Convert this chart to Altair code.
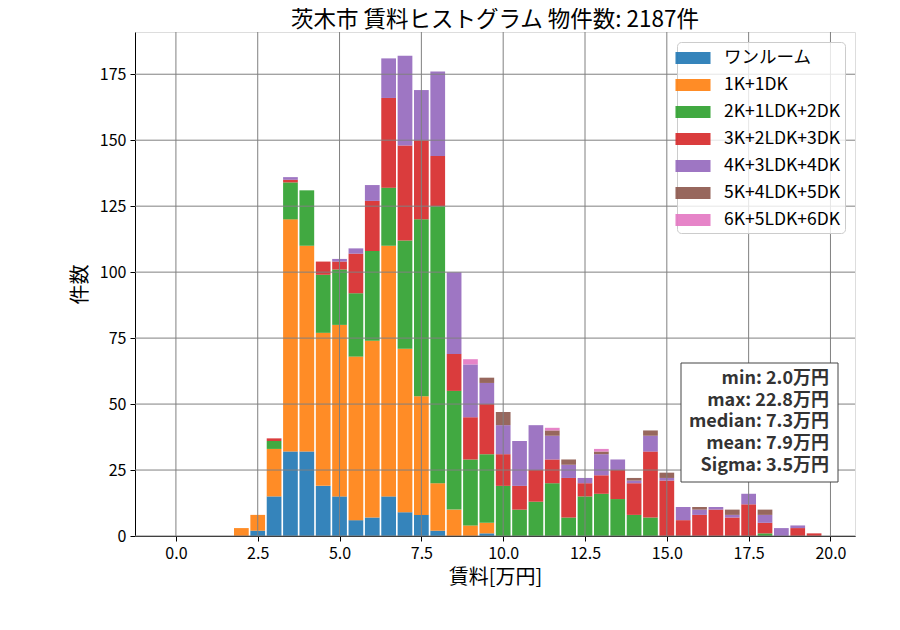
import altair as alt
import pandas as pd

FONT = "Noto Sans CJK JP"

bin_centers = [2.0, 2.5, 3.0, 3.5, 4.0, 4.5, 5.0, 5.5, 6.0, 6.5, 7.0, 7.5,
               8.0, 8.5, 9.0, 9.5, 10.0, 10.5, 11.0, 11.5, 12.0, 12.5, 13.0, 13.5,
               14.0, 14.5, 15.0, 15.5, 16.0, 16.5, 17.0, 17.5, 18.0, 18.5, 19.0, 19.5]

types = ["ワンルーム", "1K+1DK", "2K+1LDK+2DK", "3K+2LDK+3DK",
         "4K+3LDK+4DK", "5K+4LDK+5DK", "6K+5LDK+6DK"]
colors = ["#1f77b4", "#ff7f0e", "#2ca02c", "#d62728", "#9467bd", "#8c564b", "#e377c2"]

one_room = [0, 2, 15, 32, 32, 19, 15, 6, 7, 15, 9, 8, 2, 0, 0, 1, 0, 0, 0, 0, 0, 0, 0, 0,
            0, 0, 0, 0, 0, 0, 0, 0, 0, 0, 0, 0]
k1 = [3, 6, 18, 88, 78, 58, 65, 62, 67, 95, 62, 45, 18, 10, 4, 4, 0, 0, 0, 0, 0, 0, 0, 0,
      0, 0, 0, 0, 0, 0, 0, 0, 0, 0, 0, 0]
k2 = [0, 0, 3, 14, 21, 22, 21, 24, 34, 22, 41, 67, 105, 45, 25, 26, 19, 10, 13, 20, 7, 15, 16, 14,
      8, 7, 0, 0, 0, 0, 0, 0, 1, 0, 0, 0]
k3 = [0, 0, 1, 1, 0, 5, 3, 15, 19, 34, 36, 30, 19, 14, 16, 19, 12, 9, 12, 9, 15, 5, 7, 11,
      12, 25, 21, 6, 8, 10, 7, 12, 4, 0, 3, 1]
k4 = [0, 0, 0, 1, 0, 0, 1, 2, 6, 15, 34, 19, 32, 31, 20, 8, 11, 17, 17, 9, 5, 2, 8, 4,
      1, 6, 1, 5, 2, 1, 1, 4, 3, 3, 1, 0]
k5 = [0, 0, 0, 0, 0, 0, 0, 0, 0, 0, 0, 0, 0, 0, 0, 2, 5, 0, 0, 2, 2, 0, 1, 0,
      1, 2, 2, 0, 1, 0, 2, 0, 2, 0, 0, 0]
k6 = [0, 0, 0, 0, 0, 0, 0, 0, 0, 0, 0, 0, 0, 0, 2, 0, 0, 0, 0, 1, 0, 0, 1, 0,
      0, 0, 0, 0, 0, 0, 0, 0, 0, 0, 0, 0]
series = [one_room, k1, k2, k3, k4, k5, k6]

x_ticks = [0.0, 2.5, 5.0, 7.5, 10.0, 12.5, 15.0, 17.5, 20.0]
y_ticks = [0, 25, 50, 75, 100, 125, 150, 175]

stats_lines = ["min: 2.0万円", "max: 22.8万円", "median: 7.3万円",
               "mean: 7.9万円", "Sigma: 3.5万円"]

title_text = "茨木市 賃料ヒストグラム  物件数: 2187件"

BIN = 0.5
RWIDTH = 0.9

rows = []
for i, c in enumerate(bin_centers):
    base = 0
    for t, vals in zip(types, series):
        v = vals[i]
        if v > 0:
            rows.append({"type": t, "lo": c - BIN * RWIDTH / 2, "hi": c + BIN * RWIDTH / 2,
                         "y0": base, "y1": base + v, "count": v})
        base += v
df = pd.DataFrame(rows)

xscale = alt.Scale(domain=[-1.25, 20.75], nice=False, zero=False)
yscale = alt.Scale(domain=[0, 191], nice=False, zero=False)

bars = alt.Chart(df).mark_bar(opacity=0.9, strokeWidth=0).encode(
    x=alt.X("lo:Q", scale=xscale,
            axis=alt.Axis(values=x_ticks, format=".1f", grid=False, title="賃料[万円]",
                          labelFontSize=16, titleFontSize=20, titleFontWeight="normal",
                          tickSize=5, labelPadding=4, titlePadding=6,
                          domainColor="black", tickColor="black", labelColor="black",
                          titleColor="black", labelFont=FONT, titleFont=FONT)),
    x2="hi:Q",
    y=alt.Y("y0:Q", scale=yscale,
            axis=alt.Axis(values=y_ticks, grid=False, title="件数",
                          labelFontSize=16, titleFontSize=20, titleFontWeight="normal",
                          tickSize=5, labelPadding=4, titlePadding=9,
                          domainColor="black", tickColor="black", labelColor="black",
                          titleColor="black", labelFont=FONT, titleFont=FONT)),
    y2="y1:Q",
    color=alt.Color("type:N",
                    scale=alt.Scale(domain=types, range=colors),
                    legend=alt.Legend(title=None, orient="top-right", offset=10,
                                      symbolType="M-1.46,-0.5L1.46,-0.5L1.46,0.5L-1.46,0.5Z",
                                      symbolSize=576, symbolOpacity=0.9, symbolStrokeWidth=0,
                                      labelFontSize=17.5, labelFont=FONT, labelColor="black",
                                      labelOffset=19, rowPadding=6, padding=4,
                                      fillColor="rgba(255,255,255,0.8)",
                                      strokeColor="#cccccc", cornerRadius=4)),
)

vgrid = alt.Chart(pd.DataFrame({"v": x_ticks})).mark_rule(color="#808080", strokeWidth=1).encode(
    x=alt.X("v:Q", scale=xscale))
hgrid = alt.Chart(pd.DataFrame({"v": y_ticks})).mark_rule(color="#808080", strokeWidth=1).encode(
    y=alt.Y("v:Q", scale=yscale))

box = alt.Chart(pd.DataFrame({"a": [0]})).mark_rect(
    fill="white", stroke="#444444", strokeWidth=1).encode(
    x=alt.value(546), x2=alt.value(703), y=alt.value(331), y2=alt.value(450))

stats = alt.Chart(pd.DataFrame({"a": [0]})).mark_text(
    align="right", baseline="alphabetic", font=FONT, fontSize=18, fontWeight="bold",
    color="#333333", lineHeight=21.7).encode(
    x=alt.value(694), y=alt.value(352), text=alt.value(stats_lines))

chart = alt.layer(bars, vgrid, hgrid, box, stats).properties(
    width=720, height=504,
    title=alt.TitleParams(title_text, fontSize=22.5, fontWeight="normal", font=FONT,
                          color="black", anchor="middle", frame="group", offset=6, dy=6),
    autosize=alt.AutoSizeParams(type="none"),
    padding={"left": 127, "top": 24, "right": 37, "bottom": 80},
).configure_view(stroke="black", strokeWidth=1).configure(font=FONT)

chart.save("out.html", embed_options={"renderer": "svg", "actions": False})
